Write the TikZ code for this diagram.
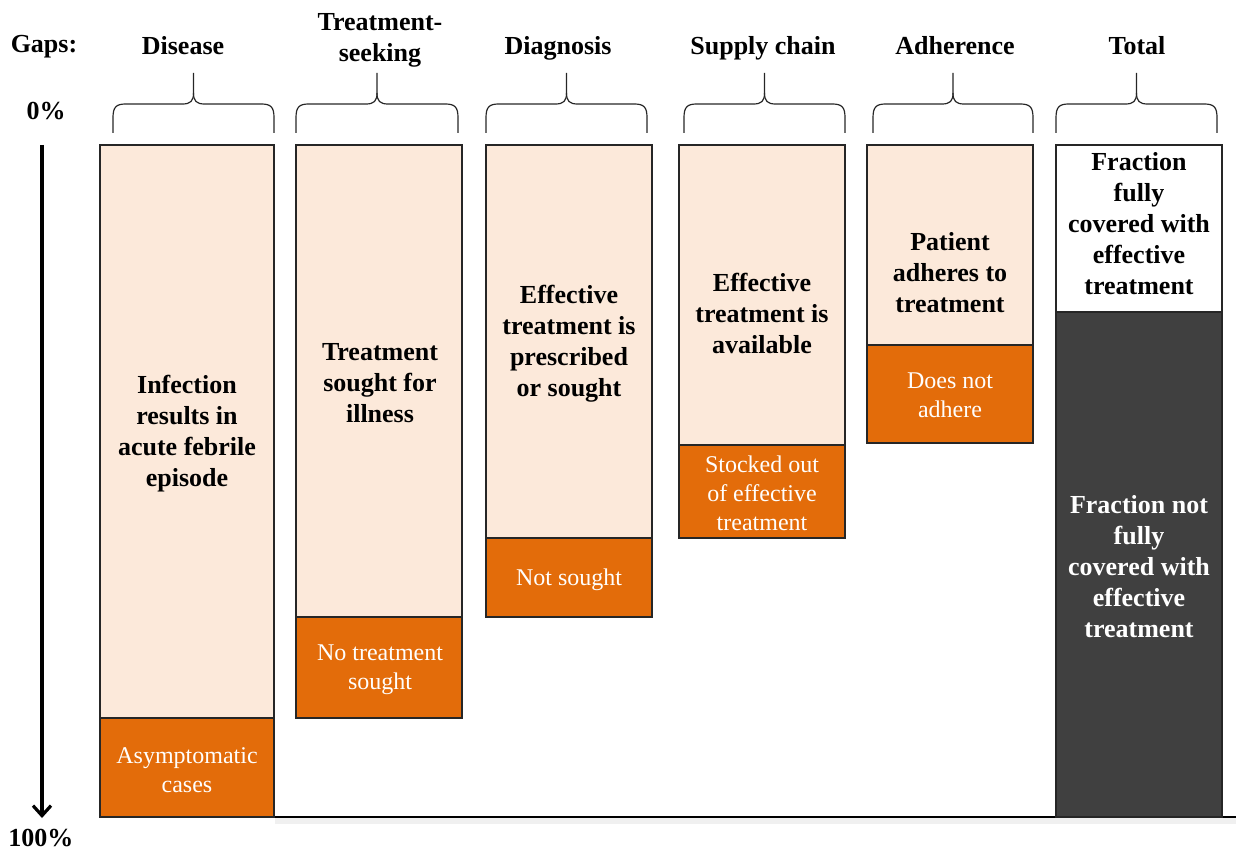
\documentclass[tikz,border=0pt]{standalone}
\usepackage{fontspec}
\setmainfont{Liberation Serif}
\usetikzlibrary{arrows.meta,fit}
\definecolor{peach}{HTML}{FCE9DA}
\definecolor{burnt}{HTML}{E36C0A}
\definecolor{charcoal}{HTML}{404040}
\definecolor{edge}{HTML}{262626}
\newcommand\gapbrace[2]{%
  \pgfmathsetmacro\bm{(#1+#2)/2}%
  \draw[bracestyle] (#1,133) -- (#1,118) .. controls (#1,107) and (#1+3,104) .. (#1+13,104)
     -- (\bm-11,104) .. controls (\bm-3,104) and (\bm,101) .. (\bm,93) -- (\bm,73);
  \draw[bracestyle] (#2,133) -- (#2,118) .. controls (#2,107) and (#2-3,104) .. (#2-13,104)
     -- (\bm+11,104) .. controls (\bm+3,104) and (\bm,101) .. (\bm,93);
}
\begin{document}
\begin{tikzpicture}[x=0.5pt,y=-0.5pt,
  seg/.style={draw=edge, line width=0.6pt, inner sep=0pt},
  light/.style={seg, fill=peach},
  orange/.style={seg, fill=burnt},
  dark/.style={seg, fill=charcoal},
  white box/.style={seg, fill=white},
  hdrbase/.style={font=\bfseries\fontsize{13}{15.5}\selectfont, align=center, inner sep=0pt},
  hdr/.style={hdrbase, text height=9pt, text depth=2.8pt},
  boxtxt/.style={font=\bfseries\fontsize{13}{15.5}\selectfont, align=center, inner sep=0pt},
  whitetxt/.style={font=\fontsize{12}{14.6}\selectfont, align=center, inner sep=0pt, text=white!95!peach},
  darktxt/.style={boxtxt, text=white},
  bracestyle/.style={draw=edge, line width=0.6pt},
  axisarrow/.style={line width=1.6pt, -{Straight Barb[length=5pt,width=9pt,line width=1.6pt]}}
]
\useasboundingbox (0,0) rectangle (1236,850);

% baseline with shadow
\coordinate (bl) at (275,817);
\coordinate (br) at (1236,817);
\draw[line width=3pt, gray!12] ([yshift=-1.8pt]bl) -- ([yshift=-1.8pt]br);
\draw[line width=1.2pt, black] (bl) -- (br);

% boxes
\node[light,  fit={(100,145) (274,718)}] (d1) {};
\node[orange, fit={(100,718) (274,817)}] (d2) {};
\node[light,  fit={(296,145) (462,617)}] (t1) {};
\node[orange, fit={(296,617) (462,718)}] (t2) {};
\node[light,  fit={(486,145) (652,538)}] (g1) {};
\node[orange, fit={(486,538) (652,617)}] (g2) {};
\node[light,  fit={(679,145) (845,445)}] (s1) {};
\node[orange, fit={(679,445) (845,538)}] (s2) {};
\node[light,  fit={(867,145) (1033,345)}] (a1) {};
\node[orange, fit={(867,345) (1033,443)}] (a2) {};
\node[white box, fit={(1056,145) (1222,312)}] (f1) {};
\node[dark,   fit={(1056,312) (1222,817)}] (f2) {};

% box texts
\node[boxtxt] (d1t) at (187,434) {Infection\\results in\\acute febrile\\episode};
\node[whitetxt] (d2t) at (187,770) {Asymptomatic\\cases};
\node[boxtxt] (t1t) at (380,383) {Treatment\\sought for\\illness};
\node[whitetxt] (t2t) at (380,670) {No treatment\\sought};
\node[boxtxt] (g1t) at (569,344) {Effective\\treatment is\\prescribed\\or sought};
\node[whitetxt] (g2t) at (569,580) {Not sought};
\node[boxtxt] (s1t) at (762,313) {Effective\\treatment is\\available};
\node[whitetxt] (s2t) at (762,493) {Stocked out\\of effective\\treatment};
\node[boxtxt] (a1t) at (950,273) {Patient\\adheres to\\treatment};
\node[whitetxt] (a2t) at (950,395) {Does not\\adhere};
\node[boxtxt] (f1t) at (1139,224) {Fraction\\fully\\covered with\\effective\\treatment};
\node[darktxt] (f2t) at (1139,567) {Fraction not\\fully\\covered with\\effective\\treatment};

% headers
\node[hdr] (gaps) at (44,46) {Gaps:};
\node[hdr] (h1) at (183,48) {Disease};
\node[hdrbase] (h2) at (380,40) {Treatment-\\seeking};
\node[hdr] (h3) at (558,48) {Diagnosis};
\node[hdr] (h4) at (763,48) {Supply chain};
\node[hdr] (h5) at (955,48) {Adherence};
\node[hdr] (h6) at (1137,48) {Total};
\node[hdr] (p0) at (46,113) {0\%};
\node[hdr] (p100) at (41,840) {100\%};

% braces
\gapbrace{113}{274}
\gapbrace{296}{458}
\gapbrace{486}{647}
\gapbrace{684}{845}
\gapbrace{873}{1033}
\gapbrace{1056}{1217}

% axis arrow
\coordinate (atop) at (42,145);
\coordinate (abot) at (42,818);
\draw[axisarrow] (atop) -- (abot);
\end{tikzpicture}
\end{document}
